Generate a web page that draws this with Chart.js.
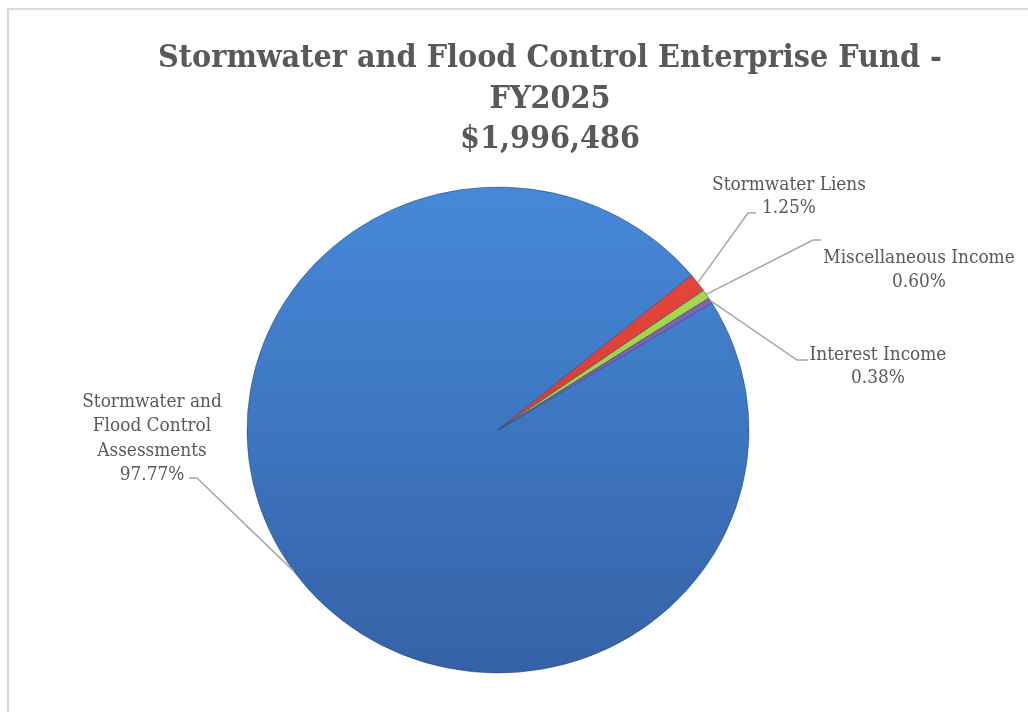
<!DOCTYPE html>
<html>
<head>
<meta charset="utf-8">
<script src="https://cdn.jsdelivr.net/npm/chart.js@4.4.1/dist/chart.umd.min.js"></script>
<style>
  html, body { margin: 0; padding: 0; background: #ffffff; overflow: hidden; }
  #wrap { position: absolute; left: 0; top: 0; width: 1028px; height: 712px; overflow: hidden; }
  #frame { position: absolute; left: 7px; top: 8px; width: 1040px; height: 720px;
           border-top: 2px solid #d9d9d9; border-left: 2px solid #d9d9d9; }
  #c { position: absolute; left: 0; top: 0; }
</style>
</head>
<body>
<div id="wrap">
  <div id="frame"></div>
  <canvas id="c" width="1028" height="712"></canvas>
</div>
<script>
// ---- Data ----
const categories = [
  'Stormwater and Flood Control Assessments',
  'Stormwater Liens',
  'Miscellaneous Income',
  'Interest Income'
];
const percentValues = [97.77, 1.25, 0.60, 0.38];
const percentLabels = ['97.77%', '1.25%', '0.60%', '0.38%'];
const labelLines = [
  ['Stormwater and', 'Flood Control', 'Assessments'],
  ['Stormwater Liens'],
  ['Miscellaneous Income'],
  ['Interest Income']
];
const titleLines = ['Stormwater and Flood Control Enterprise Fund -', 'FY2025', '$1,996,486'];

// ---- Styling / layout (not data) ----
const SERIF = '"DejaVu Serif Condensed", "DejaVu Serif", "Liberation Serif", serif';
const TEXT_COLOR = '#595959';
const LEADER_COLOR = '#a6a6a6';
const Y_SCALE = 0.968;           // slight tilt of the pie
const sliceTop = ['#4689d9', '#ea4a3e', '#b0de50', '#8a68bb'];
const sliceBottom = ['#3562a6', '#c8302a', '#8cc232', '#6c4a9e'];
// label anchor: centre x, first line centre y, line step, elbow point, end point of horizontal tick
const labelLayout = [
  { cx: 152, y0: 402, step: 24.5, elbow: [197, 478], tick: [189, 478] },
  { cx: 789, y0: 185, step: 23, elbow: [748, 213], tick: [756, 213] },
  { cx: 919, y0: 258, step: 24, elbow: [813, 240], tick: [821, 240] },
  { cx: 878, y0: 355, step: 23, elbow: [797, 360], tick: [808, 360] }
];

const measureCtx = document.createElement('canvas').getContext('2d');
function fitSize(text, weight, target) {
  measureCtx.font = weight + ' 100px ' + SERIF;
  return 100 * target / measureCtx.measureText(text).width;
}
const titleSize = fitSize(titleLines[0], 'bold', 784);
const labelSize = fitSize('Stormwater Liens', 'normal', 154);

function sliceGradient(context) {
  const chart = context.chart;
  const area = chart.chartArea;
  if (!area) return sliceTop[context.dataIndex];
  const cy = (area.top + area.bottom) / 2;
  const r = 251;
  const g = chart.ctx.createLinearGradient(0, cy - r, 0, cy + r);
  g.addColorStop(0, sliceTop[context.dataIndex]);
  g.addColorStop(1, sliceBottom[context.dataIndex]);
  return g;
}

const pieLook = {
  id: 'pieLook',
  beforeDraw(chart) {
    const ctx = chart.ctx;
    ctx.save();
    ctx.fillStyle = TEXT_COLOR;
    ctx.textAlign = 'center';
    ctx.textBaseline = 'alphabetic';
    ctx.font = 'bold ' + titleSize.toFixed(2) + 'px ' + SERIF;
    const baselines = [67, 108, 148];
    titleLines.forEach((t, i) => ctx.fillText(t, 550, baselines[i]));
    ctx.restore();
  },
  beforeDatasetsDraw(chart) {
    const ctx = chart.ctx;
    const a = chart.getDatasetMeta(0).data[0];
    ctx.save();
    ctx.translate(a.x, a.y);
    ctx.scale(1, Y_SCALE);
    ctx.translate(-a.x, -a.y);
  },
  afterDatasetsDraw(chart) {
    const ctx = chart.ctx;
    ctx.restore();
    const arcs = chart.getDatasetMeta(0).data;
    ctx.save();
    ctx.strokeStyle = LEADER_COLOR;
    ctx.lineWidth = 1.5;
    arcs.forEach((arc, i) => {
      const mid = (arc.startAngle + arc.endAngle) / 2;
      const sx = arc.x + arc.outerRadius * Math.cos(mid);
      const sy = arc.y + arc.outerRadius * Math.sin(mid) * Y_SCALE;
      const L = labelLayout[i];
      ctx.beginPath();
      ctx.moveTo(sx, sy);
      ctx.lineTo(L.elbow[0], L.elbow[1]);
      ctx.lineTo(L.tick[0], L.tick[1]);
      ctx.stroke();
    });
    ctx.fillStyle = TEXT_COLOR;
    ctx.textAlign = 'center';
    ctx.textBaseline = 'middle';
    ctx.font = labelSize.toFixed(2) + 'px ' + SERIF;
    arcs.forEach((arc, i) => {
      const L = labelLayout[i];
      const lines = labelLines[i].concat([percentLabels[i]]);
      lines.forEach((t, k) => ctx.fillText(t, L.cx, L.y0 + k * L.step));
    });
    ctx.restore();
  }
};

new Chart(document.getElementById('c'), {
  type: 'pie',
  data: {
    labels: categories,
    datasets: [{
      data: percentValues,
      backgroundColor: sliceGradient,
      borderColor: 'rgba(35,70,125,0.55)',
      borderWidth: 1,
      radius: 251
    }]
  },
  options: {
    responsive: false,
    animation: false,
    events: [],
    rotation: 58.5,
    layout: { padding: { top: 179, bottom: 31, left: 100, right: 132 } },
    plugins: {
      legend: { display: false },
      title: { display: false },
      tooltip: { enabled: false }
    }
  },
  plugins: [pieLook]
});
</script>
</body>
</html>
